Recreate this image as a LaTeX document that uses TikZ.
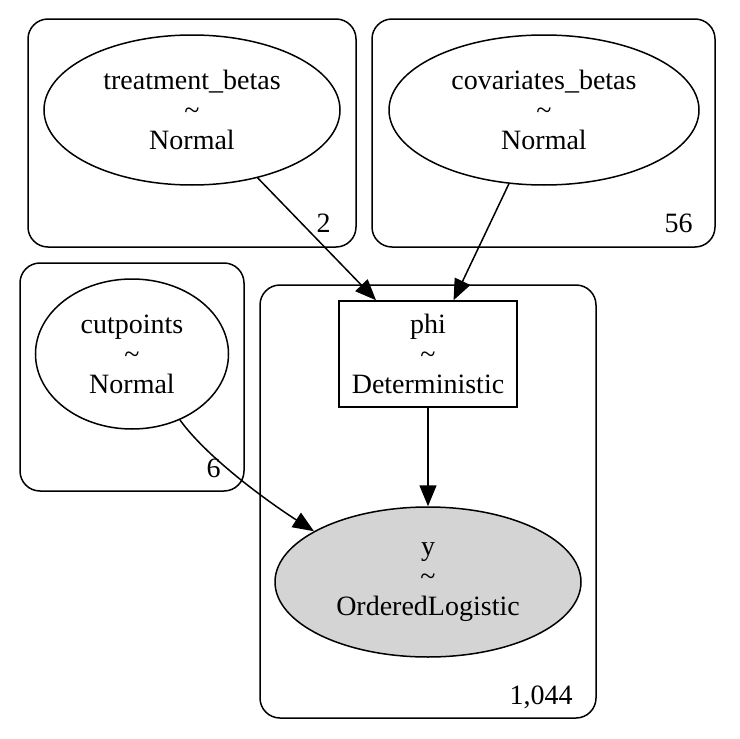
\documentclass[tikz,border=0pt]{standalone}
\usepackage{fontspec}
\setmainfont{Liberation Serif}
\usepackage{tikz}
\usetikzlibrary{arrows.meta,shapes.geometric}

\begin{document}
\begin{tikzpicture}[x=0.5pt,y=-0.5pt,>={Triangle[length=10.5pt,width=8.5pt]},line width=0.75pt]
  \tikzstyle{every node}=[font=\fontsize{14}{15}\selectfont]
  \tikzstyle{latent}=[ellipse,draw,inner sep=0pt,minimum height=75pt,align=center]
  \tikzstyle{observed}=[latent,fill=black!17]
  \tikzstyle{deterministic}=[rectangle,draw,inner sep=0pt,align=center]
  \tikzstyle{plate}=[draw,rounded corners=10pt]
  \tikzstyle{edge}=[->]
  \useasboundingbox (0,0) rectangle (740,739);
  % plates
  \draw[plate] (28,19) rectangle (356,247);
  \node[anchor=base east] (n2) at (338,232) {2};
  \draw[plate] (372,19) rectangle (715,247);
  \node[anchor=base east] (n56) at (700,232) {56};
  \draw[plate] (20,263) rectangle (244,491);
  \node[anchor=base east] (n6) at (228,477) {6};
  \draw[plate] (260,285) rectangle (596,718);
  \node[anchor=base east] (n1044) at (580,704) {1,044};
  % variables
  \node[latent,minimum width=148pt] (tb) at (192,110) {treatment\_betas\\\textasciitilde\\Normal};
  \node[latent,minimum width=155pt] (cb) at (544,110) {covariates\_betas\\\textasciitilde\\Normal};
  \node[latent,minimum width=96.5pt] (cp) at (132,354) {cutpoints\\\textasciitilde\\Normal};
  \node[deterministic,minimum width=89pt,minimum height=53pt] (phi) at (428,354) {phi\\\textasciitilde\\Deterministic};
  \node[observed,minimum width=153pt] (y) at (428,582) {y\\\textasciitilde\\OrderedLogistic};
  % edges
  \draw[edge] (tb) -- (phi);
  \draw[edge] (cb) -- (phi);
  \draw[edge] (phi) -- (y);
  \draw[edge] (cp.-54) .. controls (209,460) and (273,505) .. (y.156);
\end{tikzpicture}
\end{document}
